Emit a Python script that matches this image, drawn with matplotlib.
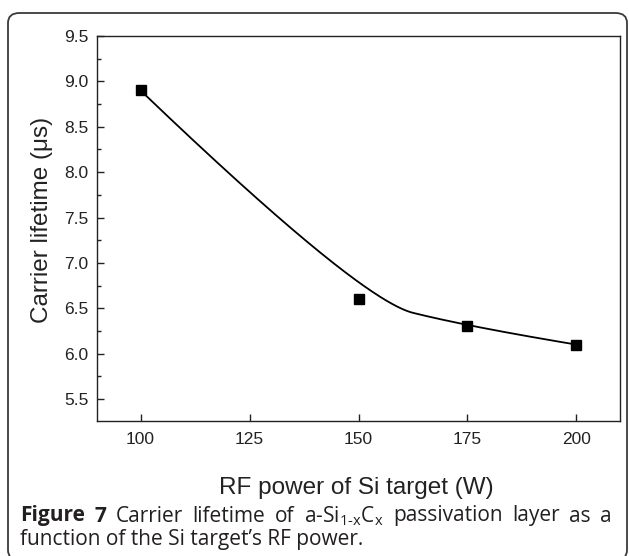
import matplotlib
matplotlib.use("Agg")
import matplotlib.pyplot as plt
import numpy as np
from matplotlib.patches import FancyBboxPatch
from matplotlib.ticker import MultipleLocator

# ---- data ----
rf_power = [100, 150, 175, 200]          # W
lifetime = [8.9, 6.6, 6.3, 6.1]          # microseconds
x_ticks = [100, 125, 150, 175, 200]
y_ticks = [5.5, 6.0, 6.5, 7.0, 7.5, 8.0, 8.5, 9.0, 9.5]

x_label = "RF power of Si target (W)"
y_label = "Carrier lifetime (\u03bcs)"
caption1_words = [
    ("Figure", "bold"), ("7", "bold"), ("Carrier", "normal"),
    ("lifetime", "normal"), ("of", "normal"),
    (r"a-Si$\mathregular{_{1" + "\u2010" + r"x}}$C$\mathregular{_{x}}$", "normal"),
    ("passivation", "normal"), ("layer", "normal"), ("as", "normal"), ("a", "normal"),
]
caption2 = "function of the Si target\u2019s RF power."


def quad_bspline(xs, ys, n=200):
    """Clamped quadratic B-spline using the data points as control points."""
    P = np.column_stack([xs, ys]).astype(float)
    k = len(P)
    starts = [P[0]] + [(P[i] + P[i + 1]) / 2 for i in range(1, k - 2)]
    ends = [(P[i] + P[i + 1]) / 2 for i in range(1, k - 2)] + [P[-1]]
    ctrls = [P[i] for i in range(1, k - 1)]
    out = []
    t = np.linspace(0, 1, n)[:, None]
    for a, c, b in zip(starts, ctrls, ends):
        out.append((1 - t) ** 2 * a + 2 * t * (1 - t) * c + t ** 2 * b)
    out = np.vstack(out)
    return out[:, 0], out[:, 1]


plt.rcParams['mathtext.fontset'] = 'custom'
plt.rcParams['mathtext.rm'] = 'Open Sans'
plt.rcParams['mathtext.bf'] = 'Open Sans:bold'

W, H = 629, 556
fig = plt.figure(figsize=(W / 100, H / 100), dpi=100)

# rounded frame
fx0, fx1, fy0, fy1 = 8, 627, 13, 560
frame = FancyBboxPatch((fx0 / W, 1 - fy1 / H), (fx1 - fx0) / W, (fy1 - fy0) / H,
                       boxstyle="round,pad=0,rounding_size=0.018",
                       transform=fig.transFigure, fill=False,
                       edgecolor="#3a3a3a", linewidth=1.3)
fig.patches.append(frame)

ax = fig.add_axes([97 / W, 1 - 421.3 / H, (620 - 97) / W, (421.3 - 36) / H])

cx, cy = quad_bspline(rf_power, lifetime)
ax.plot(cx, cy, color="black", lw=1.3, zorder=2)
ax.plot(rf_power, lifetime, linestyle="none", marker="s", markersize=7.5,
        color="black", zorder=3)

ax.set_xlim(90, 210)
ax.set_ylim(5.255, 9.5)
ax.set_xticks(x_ticks)
ax.set_yticks(y_ticks)
ax.set_yticklabels([f"{v:.1f}" for v in y_ticks])
ax.yaxis.set_minor_locator(MultipleLocator(0.25))

for s in ax.spines.values():
    s.set_linewidth(1.0)
    s.set_color("#222222")

ax.tick_params(axis="both", which="both", direction="in", top=False, right=False,
               colors="#222222")
ax.tick_params(axis="both", which="major", length=5, width=1.0,
               labelsize=12.5, labelcolor="#222222")
ax.tick_params(axis="y", which="major", pad=6)
ax.tick_params(axis="x", which="major", pad=8)
ax.tick_params(axis="y", which="minor", length=3, width=1.0)
for lab in ax.get_xticklabels() + ax.get_yticklabels():
    lab.set_family("Liberation Sans")

fig.text(356 / W, 1 - 488 / H, x_label, ha="center", va="center",
         fontsize=17.5, family="Liberation Sans", color="#222222")
fig.text(42 / W, 1 - 220 / H, y_label, ha="center", va="center", rotation=90,
         fontsize=17.5, family="Liberation Sans", color="#222222")

# caption line 1, justified between x=20 and x=612
cap_fs = 15
renderer = fig.canvas.get_renderer()
y1 = 1 - 516 / H
objs = [fig.text(0, y1, w, ha="left", va="center", fontsize=cap_fs,
                 family="Open Sans", fontweight=wt, color="#231f20")
        for w, wt in caption1_words]
widths = [o.get_window_extent(renderer).width for o in objs]
gap = (612 - 20 - sum(widths)) / (len(objs) - 1)
xpos = 20.0
for o, wd in zip(objs, widths):
    o.set_x(xpos / W)
    xpos += wd + gap

fig.text(20 / W, 1 - 540 / H, caption2, ha="left", va="center",
         fontsize=cap_fs, family="Open Sans", color="#231f20")

fig.savefig("out.png", dpi=100)
